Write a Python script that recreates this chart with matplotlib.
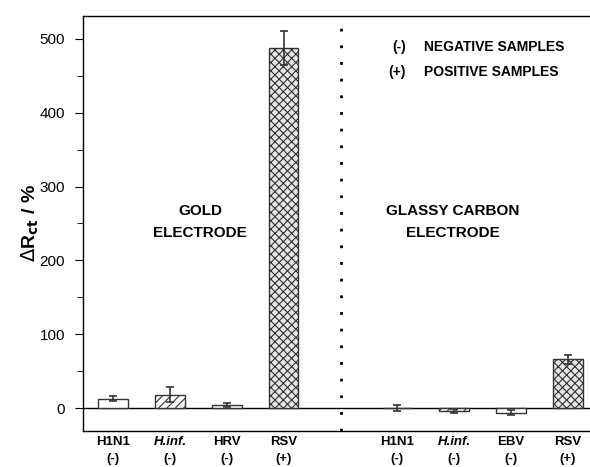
import numpy as np
import matplotlib.pyplot as plt
from matplotlib.ticker import MultipleLocator

plt.rcParams['font.family'] = ['Liberation Sans', 'DejaVu Sans']
plt.rcParams['hatch.linewidth'] = 0.8

# gold electrode samples
gold_labels = ["H1N1", "H.inf.", "HRV", "RSV"]
gold_signs = ["(-)", "(-)", "(-)", "(+)"]
gold_vals = [13, 18, 4, 487]
gold_err = [4, 10, 2.5, 23]
gold_hatch = ["", "////", "", "xxxx"]

# glassy carbon electrode samples
gc_labels = ["H1N1", "H.inf.", "EBV", "RSV"]
gc_signs = ["(-)", "(-)", "(-)", "(+)"]
gc_vals = [0, -4, -6, 66]
gc_err = [4.5, 2.5, 3.5, 6]
gc_hatch = ["", "////", "", "xxxx"]

labels = gold_labels + gc_labels
signs = gold_signs + gc_signs
vals = gold_vals + gc_vals
errs = gold_err + gc_err
hatches = gold_hatch + gc_hatch
xpos = [0, 1, 2, 3, 5, 6, 7, 8]

fig = plt.figure(figsize=(5.9, 4.67), dpi=100)
ax = fig.add_axes([0.1407, 0.077, 0.87, 0.889])

for x, v, e, h in zip(xpos, vals, errs, hatches):
    face = "#e6e6e6" if h == "xxxx" else "white"
    ax.bar(x, v, width=0.52, color=face, edgecolor="#333333", hatch=h, lw=1.0, zorder=2)
    ax.errorbar(x, v, yerr=e, fmt="none", ecolor="#333333", elinewidth=1.2,
                capsize=3, capthick=1.2, zorder=3)

ax.axhline(0, color="black", lw=1.0, zorder=1)
ax.axvline(4, color="black", lw=2, ls=(0, (1, 5)), zorder=1)

ax.set_xlim(-0.53, 8.5)
ax.set_ylim(-31, 531)
ax.yaxis.set_major_locator(MultipleLocator(100))
ax.yaxis.set_minor_locator(MultipleLocator(50))
ax.tick_params(axis='y', which='major', direction='out', length=6, pad=7, labelsize=11)
ax.tick_params(axis='y', which='minor', direction='out', length=4.5)
ax.set_xticks([])
ax.spines['right'].set_visible(False)
for s in ['left', 'top', 'bottom']:
    ax.spines[s].set_linewidth(1.0)

ax.set_ylabel(r"$\Delta$R$_{\mathbf{ct}}$ / %", fontsize=14, fontweight='bold', labelpad=-1)

# two-line category labels under the axis
for x, lab, sg in zip(xpos, labels, signs):
    style = 'italic' if lab == "H.inf." else 'normal'
    ax.text(x, -46, lab, ha='center', va='center', fontsize=9.5, fontweight='bold',
            fontstyle=style)
    ax.text(x, -69, sg, ha='center', va='center', fontsize=9.5, fontweight='bold')

ax.text(1.53, 252, "GOLD\nELECTRODE", ha='center', va='center', fontsize=11,
        fontweight='bold', linespacing=1.75)
ax.text(5.98, 252, "GLASSY CARBON\nELECTRODE", ha='center', va='center', fontsize=11,
        fontweight='bold', linespacing=1.75)

ax.text(5.03, 489, "(-)", ha='center', va='center', fontsize=10, fontweight='bold')
ax.text(5.46, 489, "NEGATIVE SAMPLES", ha='left', va='center', fontsize=10, fontweight='bold')
ax.text(5.0, 455, "(+)", ha='center', va='center', fontsize=10, fontweight='bold')
ax.text(5.46, 455, "POSITIVE SAMPLES", ha='left', va='center', fontsize=10, fontweight='bold')

fig.savefig("out.png", dpi=100)
